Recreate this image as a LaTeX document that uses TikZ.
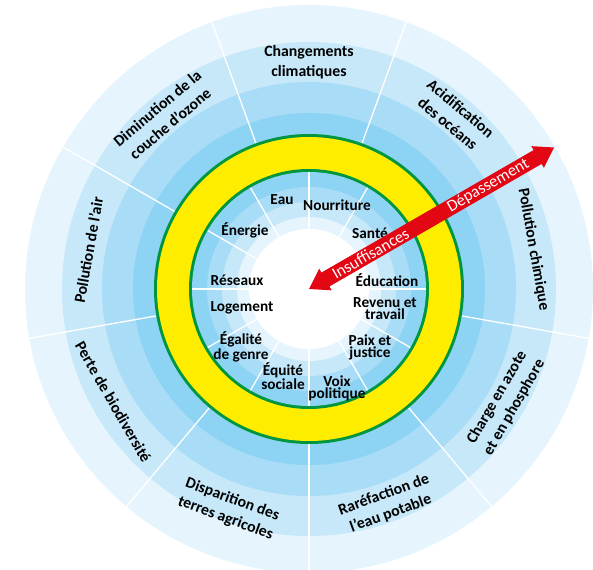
\documentclass[tikz,border=0pt]{standalone}
\usepackage{fontspec}
\setmainfont{Carlito}
\definecolor{ringA}{HTML}{E6F5FD}
\definecolor{ringB}{HTML}{C6E8F9}
\definecolor{ringC}{HTML}{A9DCF6}
\definecolor{ringD}{HTML}{8DD3F3}
\definecolor{donutgreen}{HTML}{009640}
\definecolor{donutyellow}{HTML}{FFED00}
\definecolor{arrowred}{HTML}{E30613}

\begin{document}
\begin{tikzpicture}[x=1pt,y=1pt,
  outlbl/.style={font=\fontsize{15.8}{20}\selectfont\bfseries, align=center, text=black},
  inlbl/.style={font=\fontsize{15.3}{12}\selectfont\bfseries, align=center, text=black},
  arrlbl/.style={font=\fontsize{16.5}{16}\selectfont, text=white, rotate=30, inner sep=0pt},
  sepline/.style={white, line width=1.3pt}]
\useasboundingbox (-309,-280) rectangle (284,289);
\clip (-309,-280) rectangle (284,289);
% ceiling rings
\fill[ringA] (0,0) circle (284);
\fill[ringB] (0,0) circle (247);
\fill[ringC] (0,0) circle (207);
\fill[ringD] (0,0) circle (176);
% boundaries between the nine outer sectors
\draw[sepline] (70:155) -- (70:284);
\draw[sepline] (110:155) -- (110:284);
\draw[sepline] (150:155) -- (150:284);
\draw[sepline] (190:155) -- (190:284);
\draw[sepline] (230:155) -- (230:284);
\draw[sepline] (270:155) -- (270:284);
\draw[sepline] (310:155) -- (310:284);
\draw[sepline] (350:155) -- (350:284);
\draw[sepline] (30:155) -- (30:284);
% green and yellow doughnut
\fill[donutgreen] (0,0) circle (155);
\fill[donutyellow] (0,0) circle (152);
\fill[donutgreen] (0,0) circle (120);
% social foundation rings
\fill[ringD] (0,0) circle (117);
\fill[ringC] (0,0) circle (102);
\fill[ringB] (0,0) circle (87);
\fill[ringA] (0,0) circle (72);
\fill[white] (0,0) circle (60);
% boundaries between the twelve inner sectors
\draw[sepline] (0:60) -- (0:117);
\draw[sepline] (30:60) -- (30:117);
\draw[sepline] (60:60) -- (60:117);
\draw[sepline] (90:60) -- (90:117);
\draw[sepline] (120:60) -- (120:117);
\draw[sepline] (150:60) -- (150:117);
\draw[sepline] (180:60) -- (180:117);
\draw[sepline] (210:60) -- (210:117);
\draw[sepline] (240:60) -- (240:117);
\draw[sepline] (270:60) -- (270:117);
\draw[sepline] (300:60) -- (300:117);
\draw[sepline] (330:60) -- (330:117);
% outer labels
\node[outlbl] (climat) at (90:227) {Changements\\climatiques};
\node[outlbl, rotate=-40] (ocean) at (50:226) {Acidification\\des océans};
\node[outlbl, rotate=-80] (chimie) at (10:228) {Pollution chimique};
\node[outlbl, rotate=60] (azote) at (330:227) {Charge en azote\\et en phosphore};
\node[outlbl, rotate=20] (eaupot) at (290:229) {Raréfaction de\\l’eau potable};
\node[outlbl, rotate=-20] (terres) at (250:234) {Disparition des\\terres agricoles};
\node[outlbl, rotate=-60] (biodiv) at (210:226) {Perte de biodiversité};
\node[outlbl, rotate=80] (air) at (170:224) {Pollution de l’air};
\node[outlbl, rotate=40] (ozone) at (130:226) {Diminution de la\\couche d’ozone};
% inner labels
\node[inlbl] (eau) at (-27,89) {Eau};
\node[inlbl] (nourr) at (28,84) {Nourriture};
\node[inlbl] (energ) at (-64,59) {Énergie};
\node[inlbl] (sante) at (61,56) {Santé};
\node[inlbl] (reseau) at (-72,9) {Réseaux};
\node[inlbl] (educ) at (78,9) {Éducation};
\node[inlbl] (logem) at (-67,-19) {Logement};
\node[inlbl] (revenu) at (76,-20) {Revenu et\\travail};
\node[inlbl] (egal) at (-68,-58) {Égalité\\de genre};
\node[inlbl] (paix) at (61,-58) {Paix et\\justice};
\node[inlbl] (equite) at (-26,-87) {Équité\\sociale};
\node[inlbl] (voix) at (28,-99) {Voix\\politique};
% double arrow
\fill[arrowred, rotate=30] (0,0) -- (19,12.5) -- (19,8) -- (264,8) -- (264,12.5)
  -- (283,0) -- (264,-12.5) -- (264,-8) -- (19,-8) -- (19,-12.5) -- cycle;
\node[arrlbl] (insuf) at (30:71) {Insuffisances};
\node[arrlbl] (depas) at (30:207) {Dépassement};
\end{tikzpicture}
\end{document}
